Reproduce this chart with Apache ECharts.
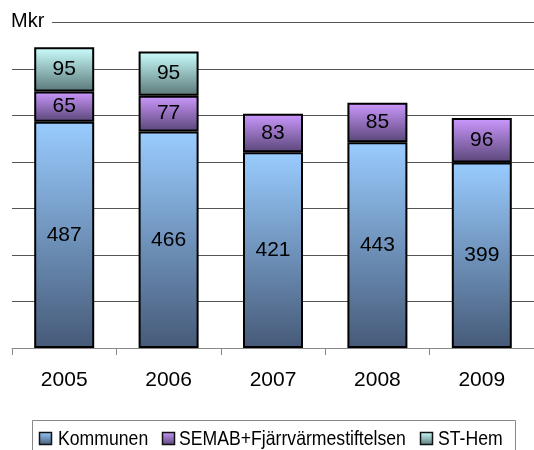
<!DOCTYPE html>
<html>
<head>
<meta charset="utf-8">
<script src="https://cdn.jsdelivr.net/npm/echarts@6/dist/echarts.min.js"></script>
<style>html,body{margin:0;padding:0;background:#fff}#c{width:534px;height:450px}</style>
</head>
<body>
<div id="c"></div>
<script>
const years = ['2005', '2006', '2007', '2008', '2009'];
const kommunen = [487, 466, 421, 443, 399];
const semab = [65, 77, 83, 85, 96];
const sthem = [95, 95, null, null, null];
const seriesNames = ['Kommunen', 'SEMAB+Fjärrvärmestiftelsen', 'ST-Hem'];
const yMax = 700, yStep = 100;

function grad(top, bottom) {
  return new echarts.graphic.LinearGradient(0, 0, 0, 1, [
    { offset: 0, color: top }, { offset: 1, color: bottom }
  ]);
}
const fillStops = [['#99CCFF', '#465A78'], ['#CC99FF', '#5A4678'], ['#CCFFFF', '#5A7878']];
const fills = fillStops.map(s => grad(s[0], s[1]));
const font = "'Liberation Sans', Arial, sans-serif";

const chart = echarts.init(document.getElementById('c'), null, { renderer: 'canvas' });
function mk(name, data, i) {
  return {
    name: name, type: 'bar', stack: 'total', data: data, barWidth: 60,
    itemStyle: { color: fills[i], borderColor: '#000', borderWidth: 2 },
    label: { show: true, position: 'inside', color: '#000', fontSize: 21, fontFamily: font },
    emphasis: { disabled: true }
  };
}

// legend drawn as graphic (condensed text like the original)
const legIconX = [39, 162, 420];
const legTextX = [58, 179, 438];
const legendGraphics = [];
seriesNames.forEach((n, i) => {
  legendGraphics.push({
    type: 'rect', z: 100, shape: { x: legIconX[i] + 0.5, y: 432.5, width: 12, height: 12 },
    style: { fill: grad(fillStops[i][0], fillStops[i][1]), stroke: '#111', lineWidth: 1.5 }
  });
  legendGraphics.push({
    type: 'text', z: 100, x: legTextX[i], y: 439, scaleX: 0.84,
    style: { text: n, fontSize: 21, fontFamily: font, fill: '#000', textAlign: 'left', textVerticalAlign: 'middle' }
  });
});

chart.setOption({
  animation: false,
  backgroundColor: '#fff',
  grid: { left: 12, right: 0, top: 22.7, bottom: 102, containLabel: false },
  xAxis: {
    type: 'category', data: years,
    axisLine: { lineStyle: { color: '#888', width: 1 } },
    axisTick: { show: true, length: 7, lineStyle: { color: '#888' } },
    axisLabel: { color: '#000', fontSize: 21, fontFamily: font, margin: 22 }
  },
  yAxis: {
    type: 'value', min: 0, max: yMax, interval: yStep,
    axisLine: { show: false }, axisTick: { show: false }, axisLabel: { show: false },
    splitLine: { lineStyle: { color: '#555', width: 1 } }
  },
  graphic: [
    { type: 'rect', z: 100, shape: { x: 0, y: 10, width: 52, height: 22 }, style: { fill: '#fff' } },
    { type: 'text', z: 101, left: 11, top: 11, style: { text: 'Mkr', fontSize: 20, fontFamily: font, fill: '#000' } },
    { type: 'rect', z: 100, shape: { x: 32.5, y: 420.5, width: 483, height: 40 }, style: { fill: '#fff', stroke: '#888', lineWidth: 1 } }
  ].concat(legendGraphics.map(g => Object.assign(g, { z: 102 }))),
  series: [mk(seriesNames[0], kommunen, 0), mk(seriesNames[1], semab, 1), mk(seriesNames[2], sthem, 2)]
});
</script>
</body>
</html>
